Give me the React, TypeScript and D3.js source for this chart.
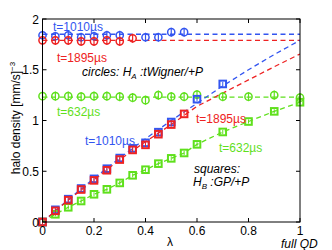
import React from "react";
import * as d3 from "d3";

// ---- data ----
const lamCircBlue = [0, 0.05, 0.1, 0.15, 0.2, 0.25, 0.3, 0.4, 0.45, 0.5, 0.55];
const circBlue = [1.84, 1.83, 1.84, 1.82, 1.83, 1.84, 1.84, 1.82, 1.82, 1.87, 1.87];
const lamCircRed = [0, 0.05, 0.1, 0.15, 0.2, 0.25, 0.3, 0.35];
const circRed = [1.79, 1.79, 1.79, 1.78, 1.78, 1.79, 1.78, 1.81];
const lamCircGreen = [0, 0.05, 0.1, 0.15, 0.2, 0.25, 0.3, 0.35, 0.4, 0.45, 0.5, 0.55, 0.6, 0.7, 0.8, 0.9, 1.0];
const circGreen = [1.24, 1.24, 1.24, 1.235, 1.24, 1.24, 1.235, 1.225, 1.2, 1.25, 1.235, 1.235, 1.255, 1.235, 1.235, 1.25, 1.225];
const circErr = 0.045;

const fitCircBlue = 1.85;
const fitCircRed = 1.79;
const fitCircGreen = 1.23;

const lamSqBlue = [0, 0.05, 0.1, 0.15, 0.2, 0.25, 0.3, 0.35, 0.4, 0.45, 0.5, 0.6, 0.7];
const sqBlue = [0, 0.12, 0.225, 0.33, 0.425, 0.525, 0.63, 0.725, 0.78, 0.885, 0.985, 1.21, 1.36];
const lamSqRed = [0, 0.05, 0.1, 0.15, 0.2, 0.25, 0.3, 0.35, 0.4, 0.45, 0.5, 0.55];
const sqRed = [0, 0.11, 0.215, 0.32, 0.41, 0.51, 0.615, 0.71, 0.76, 0.865, 0.96, 1.065];
const lamSqGreen = [0, 0.05, 0.1, 0.15, 0.2, 0.25, 0.3, 0.35, 0.4, 0.45, 0.5, 0.55, 0.6, 0.7, 0.8, 0.9, 1.0];
const sqGreen = [0, 0.076, 0.145, 0.207, 0.273, 0.322, 0.385, 0.46, 0.515, 0.575, 0.627, 0.68, 0.765, 0.887, 0.99, 1.09, 1.18];
const sqErr = 0.02;

const lamLine = [0, 0.1, 0.2, 0.3, 0.4, 0.5, 0.6, 0.7, 0.8, 0.9, 1.0];
const lineBlue = [0, 0.22, 0.43, 0.63, 0.82, 1.0, 1.17, 1.34, 1.5, 1.65, 1.79];
const lineRed = [0, 0.215, 0.415, 0.615, 0.79, 0.96, 1.14, 1.27, 1.4, 1.53, 1.655];

const xTicks = [0, 0.2, 0.4, 0.6, 0.8, 1];
const yTicks = [0, 0.5, 1, 1.5, 2];

const BLUE = "#3355f0";
const RED = "#ee2222";
const GREEN = "#5fe01c";
const FONT = "'Liberation Sans', Arial, Helvetica, sans-serif";

export default function App() {
  const W = 332, H = 250;
  const x0 = 42.5, x1 = 300, yTop = 19, yBot = 222;
  const x = d3.scaleLinear().domain([0, 1]).range([x0, x1]);
  const y = d3.scaleLinear().domain([0, 2]).range([yBot, yTop]);
  const line = d3.line<[number, number]>().x(d => x(d[0])).y(d => y(d[1]));
  const zip = (a: number[], b: number[]) => a.map((v, i) => [v, b[i]] as [number, number]);
  const dash = "5,3.5";

  const circles = (lams: number[], vals: number[], color: string) =>
    lams.map((l, i) => (
      <g key={color + "c" + i}>
        <line x1={x(l)} x2={x(l)} y1={y(vals[i] - circErr)} y2={y(vals[i] + circErr)} stroke={color} strokeWidth={1.2} />
        <circle cx={x(l)} cy={y(vals[i])} r={3.6} fill="none" stroke={color} strokeWidth={1.5} />
      </g>
    ));
  const squares = (lams: number[], vals: number[], color: string) =>
    lams.map((l, i) => (
      <g key={color + "s" + i}>
        <rect x={x(l) - 3.3} y={y(vals[i]) - 3.3} width={6.6} height={6.6} fill="none" stroke={color} strokeWidth={2} />
        <line x1={x(l)} x2={x(l)} y1={y(vals[i] - sqErr)} y2={y(vals[i] + sqErr)} stroke={color} strokeWidth={1} />
      </g>
    ));

  return (
    <svg width={W} height={H} style={{ position: "absolute", left: 0, top: 0 }} fontFamily={FONT}>
      <rect width={W} height={H} fill="#fff" />
      <defs>
        <clipPath id="plot">
          <rect x={x0} y={yTop} width={x1 - x0} height={yBot - yTop} />
        </clipPath>
      </defs>
      <g clipPath="url(#plot)">
        <path d={line([[0, fitCircBlue], [1, fitCircBlue]])!} stroke={BLUE} strokeWidth={1.3} strokeDasharray={dash} fill="none" />
        <path d={line([[0, fitCircRed], [1, fitCircRed]])!} stroke={RED} strokeWidth={1.3} strokeDasharray={dash} fill="none" />
        <path d={line([[0, fitCircGreen], [1, fitCircGreen]])!} stroke={GREEN} strokeWidth={1.3} strokeDasharray={dash} fill="none" />
        <path d={line(zip(lamLine, lineBlue))!} stroke={BLUE} strokeWidth={1.3} strokeDasharray={dash} fill="none" />
        <path d={line(zip(lamLine, lineRed))!} stroke={RED} strokeWidth={1.3} strokeDasharray={dash} fill="none" />
        <path d={line(zip(lamSqGreen, sqGreen))!} stroke={GREEN} strokeWidth={1.3} strokeDasharray={dash} fill="none" />
      </g>
      {circles(lamCircGreen, circGreen, GREEN)}
      {circles(lamCircBlue, circBlue, BLUE)}
      {circles(lamCircRed, circRed, RED)}
      {squares(lamSqGreen, sqGreen, GREEN)}
      {squares(lamSqBlue, sqBlue, BLUE)}
      {squares(lamSqRed, sqRed, RED)}

      <rect x={x0} y={yTop} width={x1 - x0} height={yBot - yTop} fill="none" stroke="#000" strokeWidth={1} />
      {xTicks.map(t => (
        <g key={"xt" + t}>
          <line x1={x(t)} x2={x(t)} y1={yBot} y2={yBot - 4} stroke="#000" />
          <line x1={x(t)} x2={x(t)} y1={yTop} y2={yTop + 4} stroke="#000" />
          <text x={x(t)} y={yBot + 12.5} fontSize={12} textAnchor="middle">{t === 0 || t === 1 ? String(t) : t.toFixed(1)}</text>
        </g>
      ))}
      {yTicks.map(t => (
        <g key={"yt" + t}>
          <line x1={x0} x2={x0 + 4} y1={y(t)} y2={y(t)} stroke="#000" />
          <line x1={x1} x2={x1 - 4} y1={y(t)} y2={y(t)} stroke="#000" />
          <text x={39} y={y(t) + 4.5} fontSize={12} textAnchor="end">{String(t)}</text>
        </g>
      ))}

      <text x={170} y={246} fontSize={12} textAnchor="middle">λ</text>
      <text x={281} y={247.5} fontSize={12} fontStyle="italic">full QD</text>
      <text transform="translate(20,118) rotate(-90)" fontSize={12} textAnchor="middle">
        halo density [mm/s]<tspan fontSize={8} dy={-5}>−3</tspan>
      </text>

      <text x={53} y={31} fontSize={12} fill={BLUE}>t=1010µs</text>
      <text x={57} y={62} fontSize={12} fill={RED}>t=1895µs</text>
      <text x={57} y={116} fontSize={12} fill={GREEN}>t=632µs</text>
      <text x={85} y={145} fontSize={12} fill={BLUE}>t=1010µs</text>
      <text x={196} y={123} fontSize={12} fill={RED}>t=1895µs</text>
      <text x={219} y={152} fontSize={12} fill={GREEN}>t=632µs</text>

      <text x={82} y={76} fontSize={12} fontStyle="italic">
        circles:  H<tspan fontSize={8} dy={3}>A</tspan><tspan dy={-3}> :tWigner/+P</tspan>
      </text>
      <text x={194} y={172.5} fontSize={12} fontStyle="italic">squares:</text>
      <text x={193} y={186} fontSize={12} fontStyle="italic">
        H<tspan fontSize={8} dy={3}>B</tspan><tspan dy={-3}> :GP/+P</tspan>
      </text>
    </svg>
  );
}
